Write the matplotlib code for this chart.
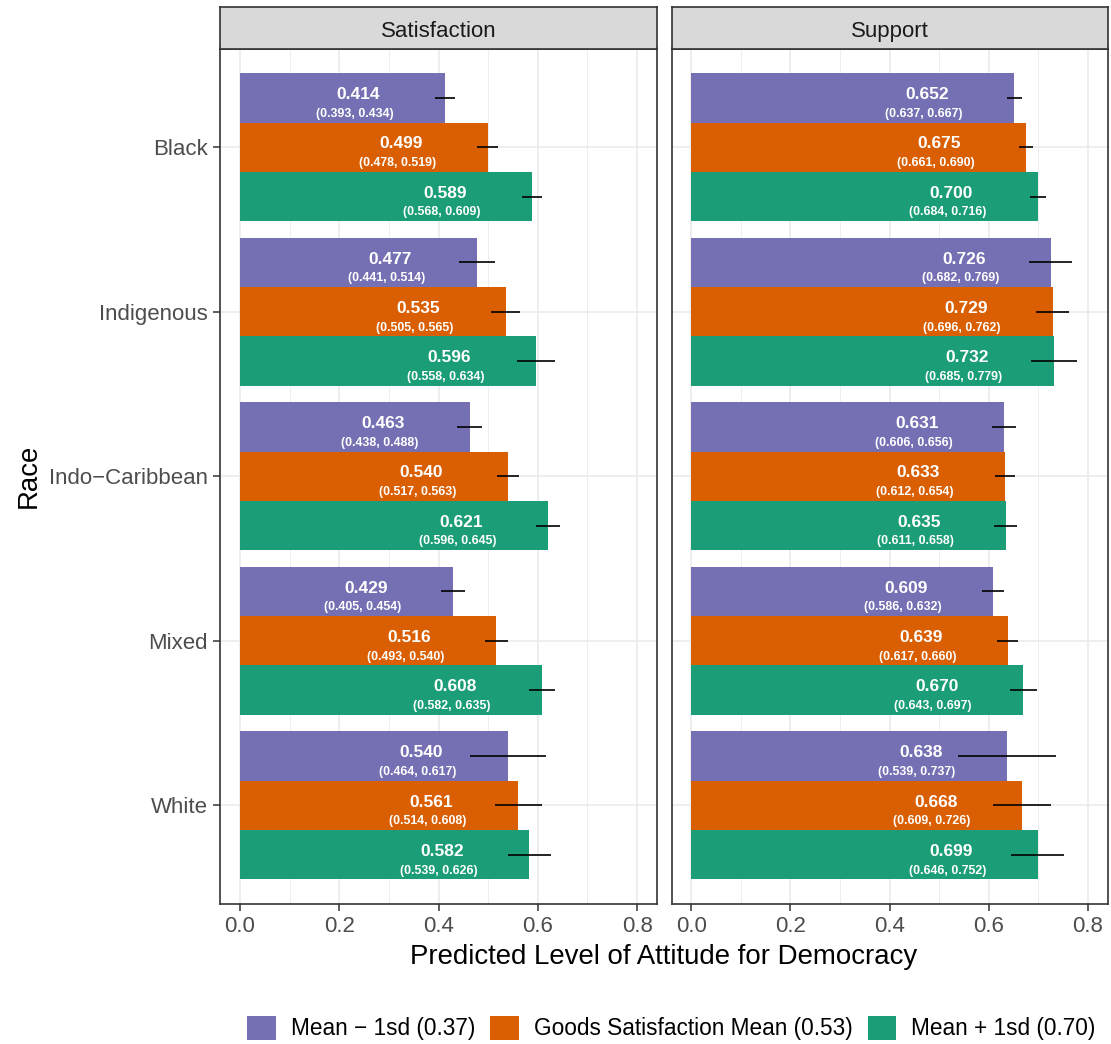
import matplotlib
matplotlib.use("Agg")
import matplotlib.pyplot as plt
from matplotlib.patches import Patch
import numpy as np

plt.rcParams["font.family"] = ["Liberation Sans", "DejaVu Sans"]

# ---- data -------------------------------------------------------------
races = ["Black", "Indigenous", "Indo\u2212Caribbean", "Mixed", "White"]
series = ["Mean \u2212 1sd (0.37)", "Goods Satisfaction Mean (0.53)", "Mean + 1sd (0.70)"]
series_colors = ["#7570B3", "#D95F02", "#1B9E77"]
panels = ["Satisfaction", "Support"]

# rows: race, columns: series
satisfaction_est = [[0.414, 0.499, 0.589],
                    [0.477, 0.535, 0.596],
                    [0.463, 0.540, 0.621],
                    [0.429, 0.516, 0.608],
                    [0.540, 0.561, 0.582]]
satisfaction_lo = [[0.393, 0.478, 0.568],
                   [0.441, 0.505, 0.558],
                   [0.438, 0.517, 0.596],
                   [0.405, 0.493, 0.582],
                   [0.464, 0.514, 0.539]]
satisfaction_hi = [[0.434, 0.519, 0.609],
                   [0.514, 0.565, 0.634],
                   [0.488, 0.563, 0.645],
                   [0.454, 0.540, 0.635],
                   [0.617, 0.608, 0.626]]

support_est = [[0.652, 0.675, 0.700],
               [0.726, 0.729, 0.732],
               [0.631, 0.633, 0.635],
               [0.609, 0.639, 0.670],
               [0.638, 0.668, 0.699]]
support_lo = [[0.637, 0.661, 0.684],
              [0.682, 0.696, 0.685],
              [0.606, 0.612, 0.611],
              [0.586, 0.617, 0.643],
              [0.539, 0.609, 0.646]]
support_hi = [[0.667, 0.690, 0.716],
              [0.769, 0.762, 0.779],
              [0.656, 0.654, 0.658],
              [0.632, 0.660, 0.697],
              [0.737, 0.726, 0.752]]

x_ticks = [0.0, 0.2, 0.4, 0.6, 0.8]
x_ticklabels = ["0.0", "0.2", "0.4", "0.6", "0.8"]

# ---- layout -----------------------------------------------------------
W, H = 1111, 1044
fig = plt.figure(figsize=(W / 100, H / 100), dpi=100)


def fig_rect(x0, y0, x1, y1):
    """pixel box (top-left origin) -> figure fraction rect"""
    return [x0 / W, 1 - y1 / H, (x1 - x0) / W, (y1 - y0) / H]


panel_x = [(220, 657), (671.5, 1107.5)]
panel_top, panel_bot = 48.5, 904
strip_top = 6.5

GRID = "#EBEBEB"
DARK = "#333333"
TICKLAB = "#4D4D4D"

bar_h = 0.3
offsets = [-0.3, 0.0, 0.3]
ypos = np.arange(1, len(races) + 1)

panel_data = [(satisfaction_est, satisfaction_lo, satisfaction_hi),
              (support_est, support_lo, support_hi)]

for p, (name, (est, lo, hi)) in enumerate(zip(panels, panel_data)):
    x0, x1 = panel_x[p]
    ax = fig.add_axes(fig_rect(x0, panel_top, x1, panel_bot))
    est = np.array(est)
    lo = np.array(lo)
    hi = np.array(hi)

    ax.set_xlim(-0.04, 0.84)
    ax.set_ylim(5.6, 0.4)
    ax.set_facecolor("white")

    ax.set_xticks(x_ticks)
    ax.set_xticklabels(x_ticklabels)
    ax.set_xticks([0.1, 0.3, 0.5, 0.7], minor=True)
    ax.set_yticks(ypos)
    ax.grid(True, which="major", axis="both", color=GRID, linewidth=1.2, zorder=0)
    ax.grid(True, which="minor", axis="x", color=GRID, linewidth=0.6, zorder=0)
    ax.set_axisbelow(True)

    ax.tick_params(axis="x", which="major", length=4.9, width=1.1, color=DARK,
                   labelsize=16.0, labelcolor=TICKLAB, pad=4.0)
    ax.tick_params(axis="x", which="minor", length=0)
    if p == 0:
        ax.set_yticklabels(races)
        ax.tick_params(axis="y", length=4.9, width=1.1, color=DARK,
                       labelsize=16.0, labelcolor=TICKLAB, pad=4)
    else:
        ax.tick_params(axis="y", length=0, labelleft=False)

    for s in ax.spines.values():
        s.set_color(DARK)
        s.set_linewidth(1.2)

    for j in range(len(series)):
        yy = ypos + offsets[j]
        ax.barh(yy, est[:, j], height=bar_h, color=series_colors[j],
                linewidth=0, zorder=2)
        ax.hlines(yy, lo[:, j], hi[:, j], color="black", linewidth=1.2, zorder=3)
        for i in range(len(races)):
            v = est[i, j]
            ax.annotate(f"{v:.3f}", xy=(v - 0.175, yy[i]), xytext=(0, -0.9),
                        textcoords="offset points", ha="center", va="baseline",
                        fontsize=12.5, fontweight="bold", color="white", zorder=4)
            ax.annotate(f"({lo[i, j]:.3f}, {hi[i, j]:.3f})",
                        xy=(v - 0.175, yy[i]), xytext=(-2.6, -13.6),
                        textcoords="offset points", ha="center", va="baseline",
                        fontsize=8.9, fontweight="bold", color="white", zorder=4)

    # facet strip
    sax = fig.add_axes(fig_rect(x0, strip_top, x1, panel_top))
    sax.set_facecolor("#D9D9D9")
    sax.set_xticks([])
    sax.set_yticks([])
    for s in sax.spines.values():
        s.set_color(DARK)
        s.set_linewidth(1.2)
    sax.text(0.5, 0.27, name, ha="center", va="baseline", fontsize=16.0,
             color="#1A1A1A", transform=sax.transAxes)

# axis titles
fig.text(663.5 / W, 1 - 957 / H, "Predicted Level of Attitude for Democracy",
         ha="center", va="center", fontsize=19.9, color="black")
fig.text(29 / W, 1 - 476 / H, "Race", ha="center", va="center",
         rotation=90, fontsize=19.9, color="black")

# legend
handles = [Patch(facecolor=c, edgecolor="none") for c in series_colors]
fig.legend(handles, series, loc="center", ncol=3,
           bbox_to_anchor=(671.5 / W, 1 - 1028 / H), frameon=False,
           fontsize=16.3, handlelength=1.25, handleheight=1.25,
           handletextpad=0.68, columnspacing=0.66, borderpad=0,
           borderaxespad=0)

fig.savefig("out.png", dpi=100, facecolor="white")
